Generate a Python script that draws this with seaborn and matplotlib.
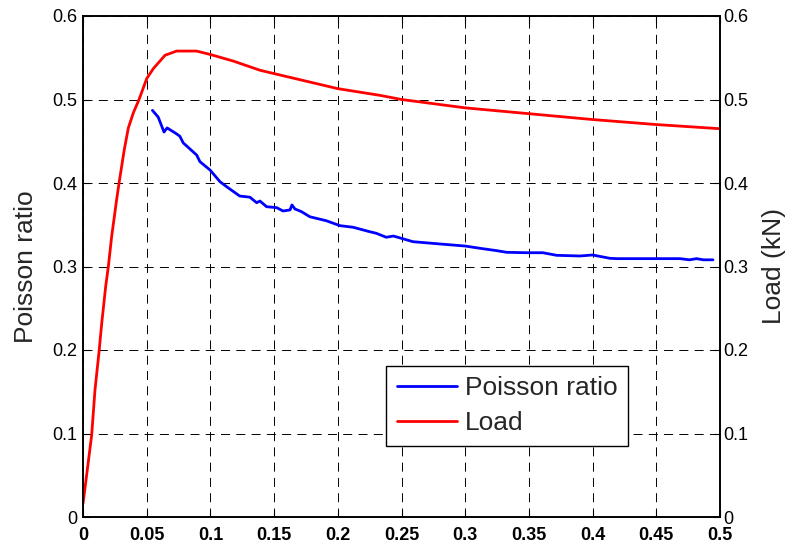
import matplotlib
matplotlib.use("Agg")
import matplotlib.pyplot as plt
import seaborn as sns
import pandas as pd

# ---- data ----
load_x = [0.0, 0.003, 0.0068, 0.0094, 0.0126, 0.0147, 0.0178, 0.0199, 0.0225, 0.0264,
          0.0285, 0.0324, 0.0356, 0.0395, 0.044, 0.05, 0.0552, 0.0644, 0.0735, 0.0892,
          0.0997, 0.118, 0.139, 0.15, 0.2, 0.233, 0.25, 0.3, 0.35, 0.4, 0.45, 0.5]
load_y = [0.016, 0.052, 0.098, 0.152, 0.198, 0.232, 0.276, 0.300, 0.336, 0.380,
          0.402, 0.440, 0.466, 0.484, 0.500, 0.525, 0.537, 0.553, 0.558, 0.558,
          0.554, 0.546, 0.535, 0.531, 0.513, 0.505, 0.500, 0.490, 0.483, 0.476, 0.470, 0.465]

poisson_x = [0.0545, 0.059, 0.0636, 0.066, 0.0733, 0.076, 0.0787, 0.0892, 0.0918, 0.0997,
             0.1075, 0.1127, 0.123, 0.131, 0.1363, 0.1389, 0.1441, 0.152, 0.157, 0.1625,
             0.164, 0.1664, 0.1716, 0.178, 0.191, 0.2017, 0.212, 0.2247, 0.2302, 0.238,
             0.2436, 0.25, 0.259, 0.280, 0.300, 0.3116, 0.3246, 0.3325, 0.348, 0.361,
             0.3717, 0.39, 0.400, 0.4136, 0.419, 0.4686, 0.476, 0.4816, 0.487, 0.4945]
poisson_y = [0.487, 0.479, 0.461, 0.466, 0.459, 0.456, 0.448, 0.4335, 0.4255, 0.4156,
             0.4016, 0.3956, 0.3844, 0.383, 0.3764, 0.3784, 0.3716, 0.3705, 0.3665, 0.3677,
             0.3737, 0.3689, 0.3656, 0.3596, 0.3548, 0.3489, 0.347, 0.3418, 0.3398, 0.335,
             0.3365, 0.3337, 0.3297, 0.327, 0.3245, 0.3218, 0.319, 0.317, 0.3165, 0.3165,
             0.3134, 0.3126, 0.3138, 0.3098, 0.3094, 0.3094, 0.308, 0.3094, 0.308, 0.308]

x_ticks = [0, 0.05, 0.1, 0.15, 0.2, 0.25, 0.3, 0.35, 0.4, 0.45, 0.5]
x_labels = ["0", "0.05", "0.1", "0.15", "0.2", "0.25", "0.3", "0.35", "0.4", "0.45", "0.5"]
y_ticks = [0, 0.1, 0.2, 0.3, 0.4, 0.5, 0.6]
y_labels = ["0", "0.1", "0.2", "0.3", "0.4", "0.5", "0.6"]

# ---- style ----
sns.set_style("white")
plt.rcParams["font.family"] = ["Liberation Sans", "DejaVu Sans"]
plt.rcParams["lines.scale_dashes"] = False

fig = plt.figure(figsize=(7.87, 5.45), dpi=100)
ax = fig.add_axes([83 / 787, 1 - 517 / 545, (720 - 83) / 787, (517 - 16) / 545])
ax2 = ax.twinx()

df_p = pd.DataFrame({"x": poisson_x, "y": poisson_y})
df_l = pd.DataFrame({"x": load_x, "y": load_y})

sns.lineplot(data=df_p, x="x", y="y", ax=ax, color="#0000ff", linewidth=2.0,
             sort=False, estimator=None, label="Poisson ratio", legend=False)
sns.lineplot(data=df_l, x="x", y="y", ax=ax2, color="#ff0000", linewidth=2.0,
             sort=False, estimator=None, label="Load", legend=False)

for a in (ax, ax2):
    a.set_xlim(0, 0.5)
    a.set_ylim(0, 0.6)
    for s in a.spines.values():
        s.set_color("black")
        s.set_linewidth(1.2)
        s.set_visible(True)

ax.set_xticks(x_ticks)
ax.set_xticklabels(x_labels, fontsize=13, fontweight="bold")
ax.set_yticks(y_ticks)
ax.set_yticklabels(y_labels, fontsize=13)
ax2.set_yticks(y_ticks)
ax2.set_yticklabels(y_labels, fontsize=13)

ax.tick_params(axis="both", direction="in", length=5, width=0.8, colors="black",
               top=True, bottom=True, left=True, right=False)
ax.tick_params(axis="x", pad=7)
ax.tick_params(axis="y", pad=4)
ax2.tick_params(axis="y", direction="in", length=5, width=0.8, colors="black", pad=2)

ax.grid(True, color="black", linestyle=(0, (6.5, 4.5)), linewidth=0.7)
ax.set_axisbelow(True)

ax.set_xlabel("")
ax.set_ylabel("Poisson ratio", fontsize=19, labelpad=10)
ax2.set_ylabel("Load (kN)", fontsize=19, labelpad=10)

h1, l1 = ax.get_legend_handles_labels()
h2, l2 = ax2.get_legend_handles_labels()
ax2.legend(h1 + h2, l1 + l2, loc="lower left",
           bbox_to_anchor=((386 - 83) / 637, (517 - 446) / 501),
           borderaxespad=0, fontsize=19, frameon=True, fancybox=False,
           edgecolor="black", framealpha=1, handlelength=2.3, handletextpad=0.3,
           labelspacing=0.42, borderpad=0.4)
ax2.get_legend().get_frame().set_linewidth(1.0)

fig.savefig("out.png", dpi=100)
